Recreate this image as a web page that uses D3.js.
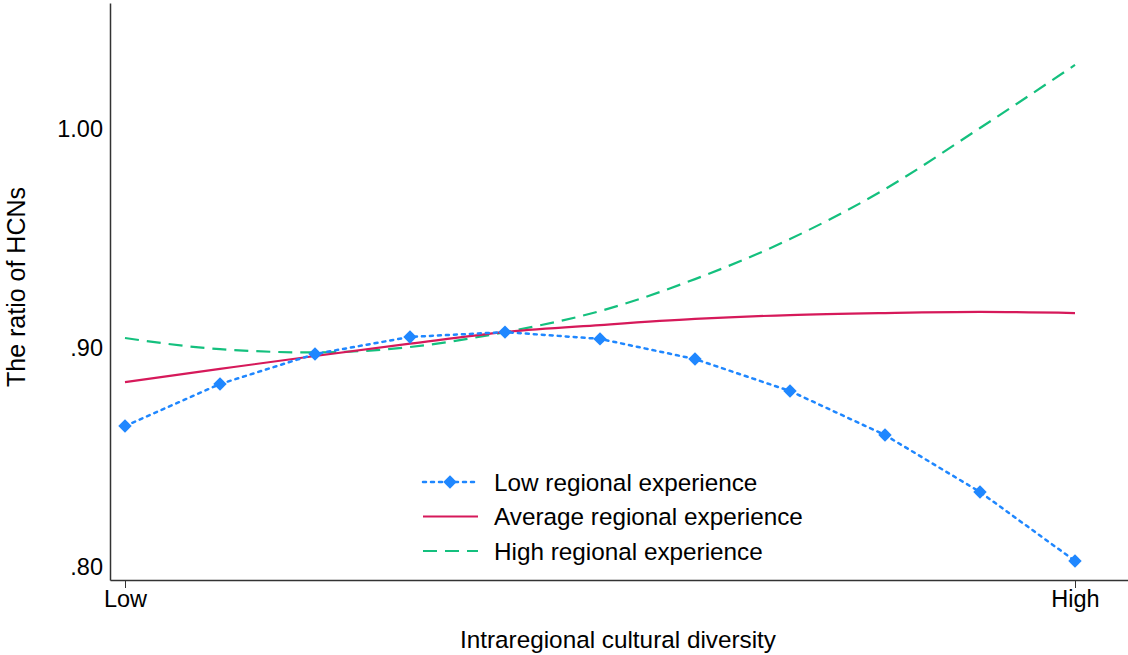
<!DOCTYPE html>
<html><head><meta charset="utf-8">
<script src="https://cdn.jsdelivr.net/npm/d3@7"></script>
<style>body{margin:0;background:#fff}svg{display:block}text{font-family:"Liberation Sans",Arial,sans-serif}</style>
</head><body><svg id="c" width="1128" height="655"></svg>
<script>
const xIdx = [0,1,2,3,4,5,6,7,8,9,10];
const xTickLabels = ["Low","High"];
const seriesNames = ["Low regional experience","Average regional experience","High regional experience"];
const lowVals  = [0.8639,0.8831,0.8968,0.9046,0.9068,0.9037,0.8945,0.8799,0.8598,0.8338,0.8023];
const avgVals  = [0.8840,0.8900,0.8959,0.9015,0.9068,0.9100,0.9128,0.9146,0.9155,0.9160,0.9155];
const highVals = [0.9041,0.8990,0.8975,0.9000,0.9068,0.9164,0.9310,0.9493,0.9721,1.0000,1.0288];
const yTicks = [0.80,0.90,1.00];
const yTickLabels = [".80",".90","1.00"];

const svg = d3.select("#c");
const x = d3.scaleLinear().domain([-15/95, 1003/95]).range([110,1128]);
const y = d3.scaleLinear().domain([0.80 - 14/2190, 1.00 + 125/2190]).range([580,3]);

const axisCol = "#333";
const ya = svg.append("g").attr("transform","translate(110,0)")
  .call(d3.axisLeft(y).tickValues(yTicks).tickFormat((d,i)=>yTickLabels[i]).tickSize(0).tickPadding(7));
ya.select(".domain").attr("stroke",axisCol).attr("stroke-width",1.5);
ya.selectAll("text").attr("font-size",23.5).attr("fill","#000").attr("font-family","Liberation Sans, Arial, sans-serif").attr("dy","0.35em");
const xa = svg.append("g").attr("transform","translate(0,580)")
  .call(d3.axisBottom(x).tickValues([0,10]).tickFormat((d,i)=>xTickLabels[i]).tickSizeInner(8).tickSizeOuter(0).tickPadding(2));
xa.select(".domain").attr("stroke",axisCol).attr("stroke-width",1.5);
xa.selectAll(".tick line").attr("stroke",axisCol).attr("stroke-width",1);
xa.selectAll("text").attr("font-size",23.5).attr("fill","#000").attr("font-family","Liberation Sans, Arial, sans-serif");

svg.append("text").attr("x",618).attr("y",648).attr("text-anchor","middle").attr("font-size",24.3).text("Intraregional cultural diversity");
svg.append("text").attr("transform","translate(25,287) rotate(-90)").attr("text-anchor","middle").attr("font-size",25).text("The ratio of HCNs");

const colors = ["#1f87ff","#d6195a","#14c07e"];
const dashes = ["3,5","none","14,8"];
const lineSmooth = d3.line().x((d,i)=>x(xIdx[i])).y(d=>y(d)).curve(d3.curveMonotoneX);
const lineStraight = d3.line().x((d,i)=>x(xIdx[i])).y(d=>y(d));

const all = [highVals, avgVals, lowVals];
const idxs = [2,1,0];
all.forEach((vals,k)=>{
  const s = idxs[k];
  svg.append("path").attr("d",(s===0?lineStraight:lineSmooth)(vals)).attr("fill","none")
    .attr("stroke",colors[s]).attr("stroke-width", s===0?2.5:2.2)
    .attr("stroke-dasharray",dashes[s]).attr("stroke-linecap", s===0?"round":"butt");
});
const sym = d3.symbol().type(d3.symbolSquare).size(90);
svg.append("g").selectAll("path").data(lowVals).join("path")
  .attr("d",sym).attr("fill",colors[0])
  .attr("transform",(d,i)=>`translate(${x(xIdx[i])},${y(d)}) rotate(45)`);

const lg = svg.append("g");
seriesNames.forEach((n,i)=>{
  const yy = 482 + i*34.5;
  lg.append("line").attr("x1",423).attr("x2",478).attr("y1",yy).attr("y2",yy)
    .attr("stroke",colors[i]).attr("stroke-width", i===0?2.5:2.2).attr("stroke-dasharray",dashes[i])
    .attr("stroke-linecap", i===0?"round":"butt");
  if(i===0) lg.append("path").attr("d",sym).attr("fill",colors[0]).attr("transform",`translate(450,${yy}) rotate(45)`);
  lg.append("text").attr("x",494).attr("y",yy).attr("dy","0.35em").attr("font-size",24.3).text(n);
});
</script></body></html>
